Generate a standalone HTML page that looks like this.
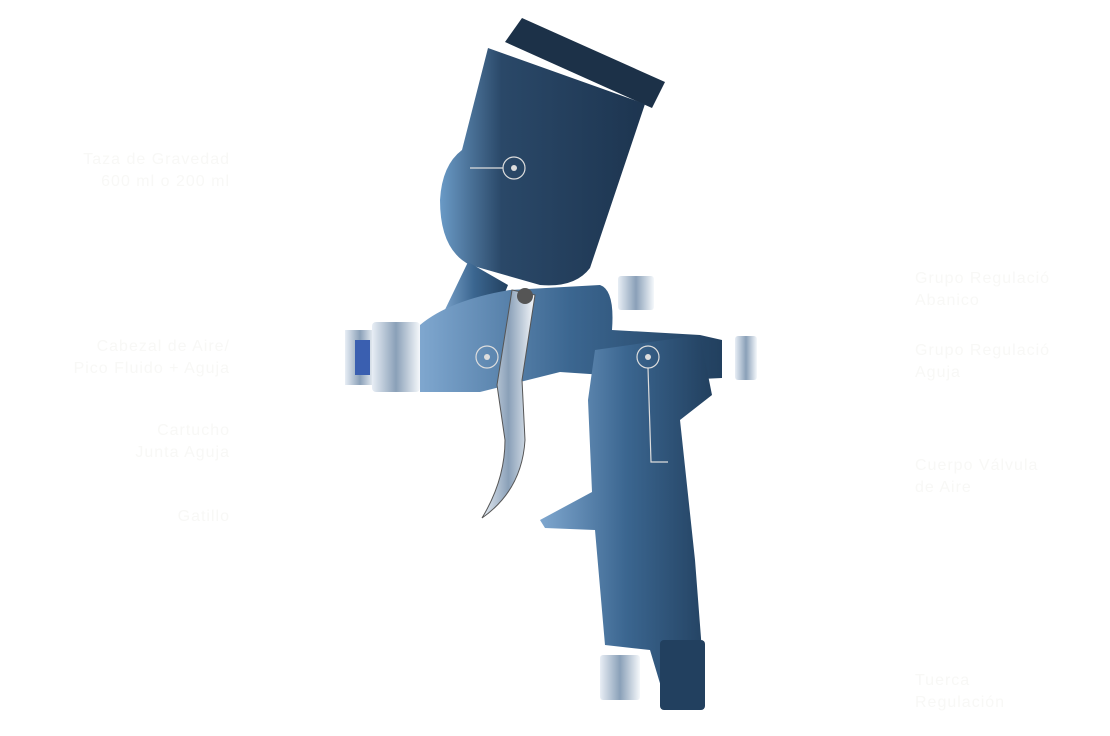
<!DOCTYPE html>
<html><head><meta charset="utf-8"><style>
html,body{margin:0;padding:0;background:#fff;}
.w{position:relative;width:1110px;height:736px;overflow:hidden;font-family:"Liberation Sans",sans-serif;}
.t{position:absolute;color:#f8f8f6;font-size:16px;line-height:22px;letter-spacing:1px;}
.r{text-align:right;}
</style></head><body><div class="w">
<svg width="1110" height="736" style="position:absolute;left:0;top:0">
<defs>
<linearGradient id="g1" x1="0" y1="0" x2="1" y2="0"><stop offset="0" stop-color="#6a9ac6"/><stop offset=".3" stop-color="#2a4868"/><stop offset="1" stop-color="#1d3550"/></linearGradient>
<linearGradient id="g2" x1="0" y1="0" x2="1" y2="0"><stop offset="0" stop-color="#7fa7cf"/><stop offset=".5" stop-color="#3b6690"/><stop offset="1" stop-color="#22405f"/></linearGradient>
<linearGradient id="s" x1="0" y1="0" x2="1" y2="0"><stop offset="0" stop-color="#e8eef5"/><stop offset=".5" stop-color="#8aa0b8"/><stop offset="1" stop-color="#f5f8fb"/></linearGradient>
</defs>
<polygon points="522,18 665,82 652,108 505,42" fill="#1c3148"/>
<path d="M488,48 L645,104 L590,268 Q575,288 540,285 L470,265 Q440,250 440,200 Q442,165 462,150 Z" fill="url(#g1)"/>
<polygon points="468,262 508,285 490,330 440,320" fill="url(#g2)"/>
<path d="M420,325 Q450,300 510,290 L600,285 Q615,290 612,330 L700,335 L722,340 L722,378 L680,380 L560,372 L480,392 L420,392 Z" fill="url(#g2)"/>
<path d="M595,350 L700,335 L712,395 L680,420 L695,560 L705,690 L665,700 L650,650 L605,645 L595,530 L545,528 L540,520 L592,492 L588,400 Z" fill="url(#g2)"/>
<rect x="345" y="330" width="30" height="55" fill="url(#s)"/>
<rect x="372" y="322" width="48" height="70" rx="4" fill="url(#s)"/>
<rect x="355" y="340" width="15" height="35" fill="#3a5fb0"/>
<rect x="735" y="336" width="22" height="44" rx="3" fill="url(#s)"/>
<rect x="618" y="276" width="36" height="34" rx="3" fill="url(#s)"/>
<rect x="600" y="655" width="40" height="45" rx="3" fill="url(#s)"/>
<rect x="660" y="640" width="45" height="70" rx="4" fill="#22405f"/>
<path d="M512,290 L535,295 L522,380 L525,440 Q522,490 482,518 Q505,480 505,440 L497,385 Z" fill="url(#s)" stroke="#555" stroke-width="1"/>
<circle cx="525" cy="296" r="8" fill="#555"/>
<g stroke="#ddd" fill="none" stroke-width="1.2">
<circle cx="514" cy="168" r="11"/><line x1="470" y1="168" x2="503" y2="168"/>
<circle cx="487" cy="357" r="11"/>
<circle cx="648" cy="357" r="11"/><polyline points="648,368 651,462 668,462"/>
</g>
<g fill="#ddd"><circle cx="514" cy="168" r="3"/><circle cx="487" cy="357" r="3"/><circle cx="648" cy="357" r="3"/></g>
</svg>
<div class="t r" style="right:880px;top:149px">Taza de Gravedad<br>600 ml o 200 ml</div>
<div class="t r" style="right:880px;top:336px">Cabezal de Aire/<br>Pico Fluido + Aguja</div>
<div class="t r" style="right:880px;top:420px">Cartucho<br>Junta Aguja</div>
<div class="t r" style="right:880px;top:506px">Gatillo</div>
<div class="t" style="left:915px;top:268px">Grupo Regulació<br>Abanico</div>
<div class="t" style="left:915px;top:340px">Grupo Regulació<br>Aguja</div>
<div class="t" style="left:915px;top:455px">Cuerpo Válvula<br>de Aire</div>
<div class="t" style="left:915px;top:670px">Tuerca<br>Regulación</div>
</div></body></html>
